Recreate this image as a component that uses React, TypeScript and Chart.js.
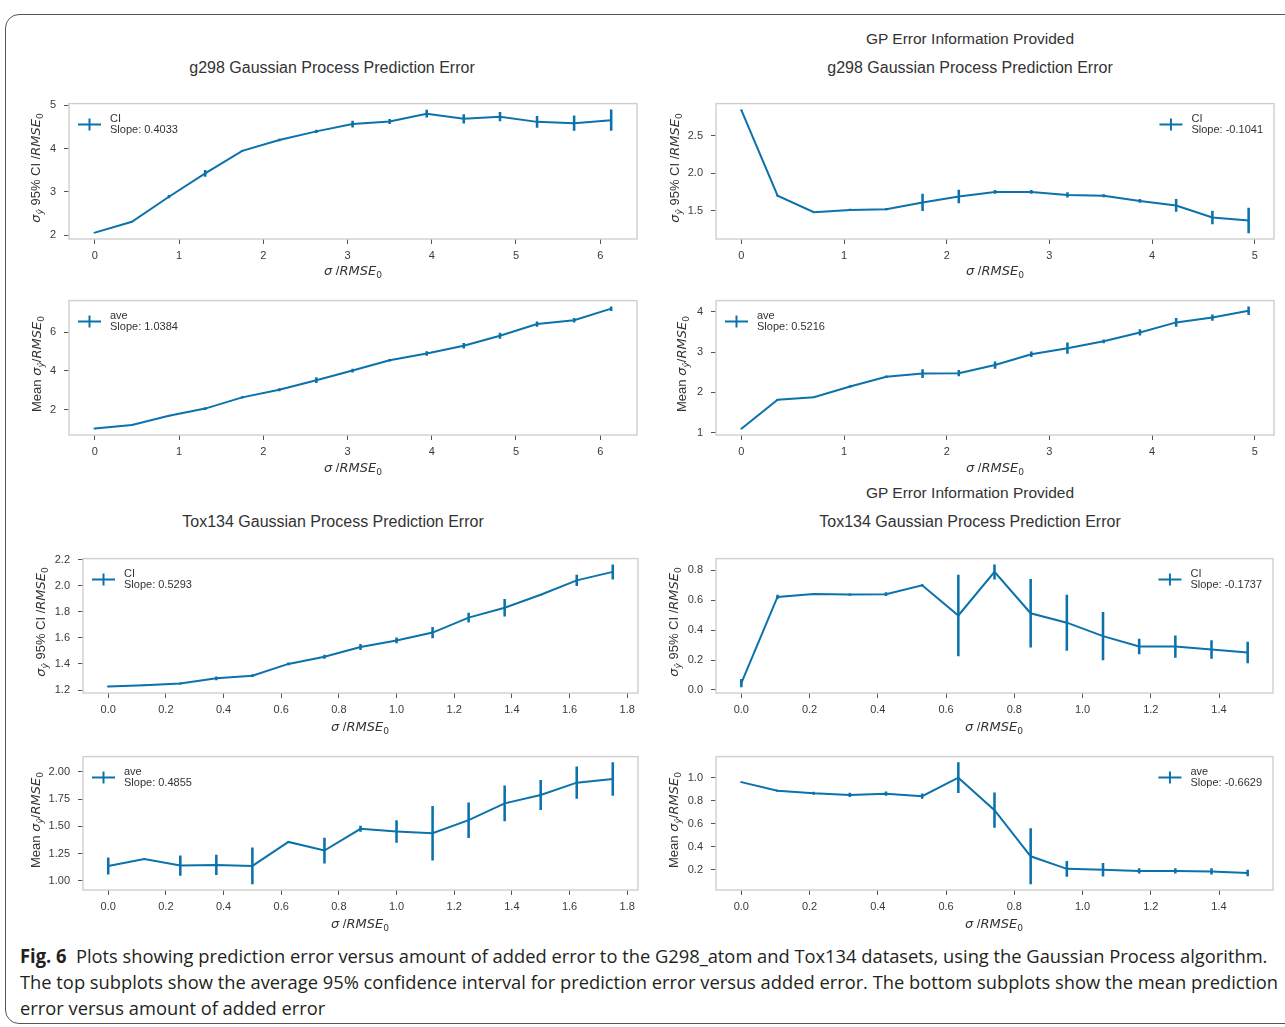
import React, { useEffect, useLayoutEffect, useRef, useState } from 'react';
import { Chart, registerables } from 'chart.js';
Chart.register(...registerables);

// ---------------- data ----------------
const g298X = [0, 0.44, 0.88, 1.31, 1.75, 2.19, 2.63, 3.06, 3.5, 3.94, 4.38, 4.81, 5.25, 5.69, 6.13];
const g298CI = [2.06, 2.31, 2.89, 3.43, 3.95, 4.2, 4.4, 4.57, 4.63, 4.81, 4.69, 4.74, 4.62, 4.59, 4.66];
const g298CIErr = [0.005, 0.005, 0.03, 0.07, 0.01, 0.02, 0.03, 0.07, 0.05, 0.08, 0.1, 0.1, 0.13, 0.17, 0.24];
const g298Mean = [1.02, 1.2, 1.68, 2.05, 2.63, 3.02, 3.52, 4.02, 4.55, 4.9, 5.3, 5.82, 6.42, 6.62, 7.22];
const g298MeanErr = [0.02, 0.02, 0.02, 0.05, 0.04, 0.06, 0.13, 0.08, 0.05, 0.1, 0.13, 0.14, 0.12, 0.1, 0.1];

const g298GpX = [0, 0.353, 0.706, 1.059, 1.412, 1.765, 2.118, 2.471, 2.824, 3.176, 3.529, 3.882, 4.235, 4.588, 4.941];
const g298GpCI = [2.84, 1.7, 1.48, 1.51, 1.52, 1.61, 1.69, 1.75, 1.75, 1.71, 1.7, 1.63, 1.57, 1.41, 1.37];
const g298GpCIErr = [0.005, 0.005, 0.005, 0.01, 0.01, 0.11, 0.086, 0.02, 0.02, 0.03, 0.015, 0.02, 0.08, 0.085, 0.165];
const g298GpMean = [1.1, 1.82, 1.88, 2.15, 2.39, 2.47, 2.48, 2.68, 2.95, 3.1, 3.27, 3.49, 3.74, 3.86, 4.03];
const g298GpMeanErr = [0.005, 0.01, 0.01, 0.02, 0.02, 0.1, 0.07, 0.08, 0.06, 0.13, 0.04, 0.07, 0.1, 0.07, 0.1];

const toxX = [0, 0.125, 0.25, 0.375, 0.5, 0.625, 0.75, 0.875, 1.0, 1.125, 1.25, 1.375, 1.5, 1.625, 1.75];
const toxCI = [1.227, 1.237, 1.25, 1.29, 1.31, 1.4, 1.455, 1.53, 1.58, 1.64, 1.755, 1.83, 1.93, 2.04, 2.105];
const toxCIErr = [0.003, 0.003, 0.005, 0.012, 0.008, 0.008, 0.012, 0.02, 0.02, 0.04, 0.035, 0.065, 0.003, 0.04, 0.055];
const toxMean = [1.137, 1.2, 1.14, 1.146, 1.137, 1.357, 1.278, 1.477, 1.453, 1.436, 1.556, 1.71, 1.787, 1.9, 1.933];
const toxMeanErr = [0.075, 0.003, 0.09, 0.09, 0.165, 0.005, 0.115, 0.025, 0.1, 0.247, 0.16, 0.16, 0.135, 0.145, 0.15];

const toxGpX = [0, 0.106, 0.212, 0.318, 0.424, 0.53, 0.636, 0.742, 0.848, 0.954, 1.06, 1.166, 1.272, 1.378, 1.484];
const toxGpCI = [0.045, 0.622, 0.642, 0.638, 0.641, 0.7, 0.498, 0.79, 0.513, 0.45, 0.36, 0.29, 0.29, 0.27, 0.25];
const toxGpCIErr = [0.025, 0.012, 0.003, 0.005, 0.01, 0.005, 0.27, 0.048, 0.227, 0.185, 0.16, 0.05, 0.072, 0.06, 0.07];
const toxGpMean = [0.961, 0.886, 0.864, 0.85, 0.861, 0.839, 1.0, 0.717, 0.317, 0.208, 0.2, 0.19, 0.19, 0.186, 0.172];
const toxGpMeanErr = [0.003, 0.005, 0.01, 0.015, 0.015, 0.02, 0.13, 0.15, 0.24, 0.065, 0.055, 0.02, 0.02, 0.025, 0.025];

const slopes = { g298CI: '0.4033', g298Mean: '1.0384', g298GpCI: '-0.1041', g298GpMean: '0.5216', toxCI: '0.5293', toxMean: '0.4855', toxGpCI: '-0.1737', toxGpMean: '-0.6629' };

const g298XTicks = ['0', '1', '2', '3', '4', '5', '6'];
const g298GpXTicks = ['0', '1', '2', '3', '4', '5'];
const toxXTicks = ['0.0', '0.2', '0.4', '0.6', '0.8', '1.0', '1.2', '1.4', '1.6', '1.8'];
const toxGpXTicks = ['0.0', '0.2', '0.4', '0.6', '0.8', '1.0', '1.2', '1.4'];
const g298CIYTicks = ['2', '3', '4', '5'];
const g298MeanYTicks = ['2', '4', '6'];
const g298GpCIYTicks = ['1.5', '2.0', '2.5'];
const g298GpMeanYTicks = ['1', '2', '3', '4'];
const toxCIYTicks = ['1.2', '1.4', '1.6', '1.8', '2.0', '2.2'];
const toxMeanYTicks = ['1.00', '1.25', '1.50', '1.75', '2.00'];
const toxGpCIYTicks = ['0.0', '0.2', '0.4', '0.6', '0.8'];
const toxGpMeanYTicks = ['0.2', '0.4', '0.6', '0.8', '1.0'];

const titleG298 = 'g298 Gaussian Process Prediction Error';
const titleTox = 'Tox134 Gaussian Process Prediction Error';
const supTitle = 'GP Error Information Provided';

// ---------------- styling ----------------
const BLUE = '#0b72ab';
const SANS = '"Liberation Sans", Arial, Helvetica, sans-serif';
const TICK_COLOR = '#3a3a3a';

type Box = { l: number; r: number; t: number; b: number };

function padRange(lo: number, hi: number): [number, number] {
  const d = (hi - lo) * 0.05;
  return [lo - d, hi + d];
}

const framePlugin = {
  id: 'frame',
  beforeDatasetsDraw(chart: any) {
    const { ctx, chartArea: a } = chart;
    ctx.save();
    ctx.strokeStyle = '#cfcfcf';
    ctx.lineWidth = 1.4;
    ctx.strokeRect(a.left, a.top, a.right - a.left, a.bottom - a.top);
    ctx.restore();
  },
};

const errLegendPlugin = {
  id: 'errLegend',
  afterDatasetsDraw(chart: any, _args: any, opts: any) {
    const { ctx, chartArea: a } = chart;
    ctx.save();
    ctx.font = `11px ${SANS}`;
    const l1 = opts.line1 as string;
    const l2 = opts.line2 as string;
    const w = Math.max(ctx.measureText(l1).width, ctx.measureText(l2).width);
    const handle = 23;
    const gap = 9;
    const hx = opts.side === 'left' ? a.left + 9 : a.right - 11 - w - gap - handle;
    const tx = hx + handle + gap;
    const hy = a.top + 21;
    ctx.strokeStyle = BLUE;
    ctx.lineWidth = 2;
    ctx.beginPath();
    ctx.moveTo(hx, hy);
    ctx.lineTo(hx + handle, hy);
    ctx.moveTo(hx + handle / 2, hy - 6);
    ctx.lineTo(hx + handle / 2, hy + 6);
    ctx.stroke();
    ctx.fillStyle = '#333';
    ctx.textBaseline = 'middle';
    ctx.textAlign = 'left';
    ctx.fillText(l1, tx, a.top + 15);
    ctx.fillText(l2, tx, a.top + 26);
    ctx.restore();
  },
};

interface PanelProps {
  box: Box;
  xs: number[];
  ys: number[];
  errs: number[];
  xTicks: string[];
  yTicks: string[];
  label: string;
  slope: string;
  side: 'left' | 'right';
}

const PAD_L = 60, PAD_T = 8, PAD_R = 12, PAD_B = 28;

function Panel(p: PanelProps) {
  const ref = useRef<HTMLCanvasElement>(null);
  const w = p.box.r - p.box.l + PAD_L + PAD_R;
  const h = p.box.b - p.box.t + PAD_T + PAD_B;
  useEffect(() => {
    const [xMin, xMax] = padRange(Math.min(...p.xs), Math.max(...p.xs));
    const lows = p.ys.map((y, i) => y - p.errs[i]);
    const highs = p.ys.map((y, i) => y + p.errs[i]);
    const [yMin, yMax] = padRange(Math.min(...lows), Math.max(...highs));
    const tickFont = { family: SANS, size: 11 };
    const chart = new Chart(ref.current as HTMLCanvasElement, {
      type: 'line',
      data: {
        datasets: [
          {
            type: 'line',
            data: p.xs.map((x, i) => ({ x, y: p.ys[i] })),
            borderColor: BLUE,
            borderWidth: 2,
            pointRadius: 0,
            tension: 0,
            fill: false,
            order: 0,
          } as any,
          {
            type: 'bar',
            data: p.xs.map((x, i) => ({ x, y: [lows[i], highs[i]] })),
            backgroundColor: BLUE,
            borderWidth: 0,
            barThickness: 1.9,
            grouped: false,
            order: 1,
          } as any,
        ],
      },
      options: {
        animation: false,
        responsive: false,
        events: [],
        layout: { autoPadding: false, padding: { left: 0, top: PAD_T, right: PAD_R, bottom: 0 } } as any,
        plugins: {
          legend: { display: false },
          tooltip: { enabled: false },
          errLegend: { line1: p.label, line2: `Slope: ${p.slope}`, side: p.side },
        } as any,
        scales: {
          x: {
            type: 'linear',
            min: xMin,
            max: xMax,
            offset: false,
            afterFit: (s: any) => { s.height = PAD_B; },
            afterBuildTicks: (s: any) => { s.ticks = p.xTicks.map((t) => ({ value: Number(t) })); },
            ticks: {
              callback: (_v: any, i: number) => p.xTicks[i],
              autoSkip: false,
              maxRotation: 0,
              padding: 5,
              color: TICK_COLOR,
              font: tickFont,
            },
            grid: { display: true, drawOnChartArea: false, drawTicks: true, tickLength: 5, color: '#555', offset: false },
            border: { display: false },
          } as any,
          y: {
            type: 'linear',
            min: yMin,
            max: yMax,
            afterFit: (s: any) => { s.width = PAD_L; },
            afterBuildTicks: (s: any) => { s.ticks = p.yTicks.map((t) => ({ value: Number(t) })); },
            ticks: {
              callback: (_v: any, i: number) => p.yTicks[i],
              autoSkip: false,
              padding: 8,
              color: TICK_COLOR,
              font: tickFont,
            },
            grid: { display: true, drawOnChartArea: false, drawTicks: true, tickLength: 5, color: '#555' },
            border: { display: false },
          } as any,
        },
      },
      plugins: [framePlugin, errLegendPlugin],
    });
    return () => chart.destroy();
  }, []);
  return (
    <canvas
      ref={ref}
      width={w}
      height={h}
      style={{ position: 'absolute', left: p.box.l - PAD_L, top: p.box.t - PAD_T, width: w, height: h }}
    />
  );
}

// ---------------- text helpers ----------------
const MATH: React.CSSProperties = { fontFamily: '"DejaVu Sans", sans-serif', fontStyle: 'italic' };
const SUB: React.CSSProperties = { fontFamily: '"DejaVu Sans", sans-serif', fontSize: '0.7em', position: 'relative', top: '0.3em' };

function SigmaHat() {
  return (
    <>
      <span style={MATH}>σ</span>
      <span style={{ ...SUB, fontStyle: 'italic' }}>ŷ</span>
    </>
  );
}
function Rmse0() {
  return (
    <>
      <span style={MATH}>RMSE</span>
      <span style={SUB}>0</span>
    </>
  );
}

function Txt(props: { x: number; y: number; size: number; rotate?: boolean; children: React.ReactNode }) {
  return (
    <div
      style={{
        position: 'absolute',
        left: props.x,
        top: props.y,
        transform: `translate(-50%, -50%)${props.rotate ? ' rotate(-90deg)' : ''}`,
        whiteSpace: 'nowrap',
        fontFamily: SANS,
        fontSize: props.size,
        color: '#333',
        lineHeight: 1,
      }}
    >
      {props.children}
    </div>
  );
}

function XLabel(props: { x: number; y: number }) {
  return (
    <Txt x={props.x} y={props.y} size={13}>
      <span style={MATH}>σ</span> /<Rmse0 />
    </Txt>
  );
}
function YLabelCI(props: { x: number; y: number }) {
  return (
    <Txt x={props.x} y={props.y} size={13} rotate>
      <SigmaHat /> 95% CI /<Rmse0 />
    </Txt>
  );
}
function YLabelMean(props: { x: number; y: number }) {
  return (
    <Txt x={props.x} y={props.y} size={13} rotate>
      Mean <SigmaHat />/<Rmse0 />
    </Txt>
  );
}

function Caption() {
  const ref = useRef<HTMLSpanElement>(null);
  const [s, setS] = useState(1);
  useLayoutEffect(() => {
    if (ref.current) {
      const w = ref.current.getBoundingClientRect().width;
      if (w > 0) setS(1258 / w);
    }
  }, []);
  return (
    <div
      style={{
        position: 'absolute',
        left: 20,
        top: 943,
        fontFamily: '"Open Sans", "Noto Sans", "Liberation Sans", sans-serif',
        fontSize: 19,
        lineHeight: '26px',
        color: '#231f20',
        whiteSpace: 'nowrap',
        transformOrigin: '0 0',
        transform: `scaleX(${s})`,
      }}
    >
      <div>
        <span>
          <b>Fig. 6</b>&nbsp;&nbsp;Plots showing prediction error versus amount of added error to the G298_atom and Tox134 datasets, using the Gaussian Process algorithm.
        </span>
      </div>
      <div>
        <span ref={ref}>
          The top subplots show the average 95% confidence interval for prediction error versus added error. The bottom subplots show the mean prediction
        </span>
      </div>
      <div>
        <span>error versus amount of added error</span>
      </div>
    </div>
  );
}

export default function App() {
  const bA = { l: 69, r: 637, t: 97, b: 239 };
  const bC = { l: 69, r: 637, t: 294, b: 435 };
  const bB = { l: 716, r: 1274, t: 97, b: 239 };
  const bD = { l: 716, r: 1274, t: 294, b: 435 };
  const bE = { l: 83, r: 638, t: 552, b: 693 };
  const bG = { l: 83, r: 638, t: 750, b: 890 };
  const bF = { l: 716, r: 1273, t: 552, b: 693 };
  const bH = { l: 716, r: 1273, t: 750, b: 890 };
  return (
    <div style={{ position: 'absolute', left: 0, top: 0, width: 1285, height: 1027, overflow: 'hidden', background: '#fff' }}>
      <div style={{ position: 'absolute', left: 5, top: 14, width: 1310, height: 1008, border: '1px solid #555', borderRadius: 14 }} />

      <Txt x={332} y={68} size={16}>{titleG298}</Txt>
      <Txt x={970} y={39} size={15.5}>{supTitle}</Txt>
      <Txt x={970} y={68} size={16}>{titleG298}</Txt>
      <Txt x={333} y={522} size={16}>{titleTox}</Txt>
      <Txt x={970} y={493} size={15.5}>{supTitle}</Txt>
      <Txt x={970} y={522} size={16}>{titleTox}</Txt>

      <Panel box={bA} xs={g298X} ys={g298CI} errs={g298CIErr} xTicks={g298XTicks} yTicks={g298CIYTicks} label="CI" slope={slopes.g298CI} side="left" />
      <Panel box={bC} xs={g298X} ys={g298Mean} errs={g298MeanErr} xTicks={g298XTicks} yTicks={g298MeanYTicks} label="ave" slope={slopes.g298Mean} side="left" />
      <Panel box={bB} xs={g298GpX} ys={g298GpCI} errs={g298GpCIErr} xTicks={g298GpXTicks} yTicks={g298GpCIYTicks} label="CI" slope={slopes.g298GpCI} side="right" />
      <Panel box={bD} xs={g298GpX} ys={g298GpMean} errs={g298GpMeanErr} xTicks={g298GpXTicks} yTicks={g298GpMeanYTicks} label="ave" slope={slopes.g298GpMean} side="left" />
      <Panel box={bE} xs={toxX} ys={toxCI} errs={toxCIErr} xTicks={toxXTicks} yTicks={toxCIYTicks} label="CI" slope={slopes.toxCI} side="left" />
      <Panel box={bG} xs={toxX} ys={toxMean} errs={toxMeanErr} xTicks={toxXTicks} yTicks={toxMeanYTicks} label="ave" slope={slopes.toxMean} side="left" />
      <Panel box={bF} xs={toxGpX} ys={toxGpCI} errs={toxGpCIErr} xTicks={toxGpXTicks} yTicks={toxGpCIYTicks} label="CI" slope={slopes.toxGpCI} side="right" />
      <Panel box={bH} xs={toxGpX} ys={toxGpMean} errs={toxGpMeanErr} xTicks={toxGpXTicks} yTicks={toxGpMeanYTicks} label="ave" slope={slopes.toxGpMean} side="right" />

      <XLabel x={353} y={271} />
      <XLabel x={353} y={468} />
      <XLabel x={995} y={271} />
      <XLabel x={995} y={468} />
      <XLabel x={360} y={727} />
      <XLabel x={360} y={924} />
      <XLabel x={994} y={727} />
      <XLabel x={994} y={924} />

      <YLabelCI x={36} y={168} />
      <YLabelMean x={37} y={364} />
      <YLabelCI x={675} y={168} />
      <YLabelMean x={682} y={364} />
      <YLabelCI x={41} y={622} />
      <YLabelMean x={36} y={820} />
      <YLabelCI x={674} y={622} />
      <YLabelMean x={674} y={820} />

      <Caption />
    </div>
  );
}
